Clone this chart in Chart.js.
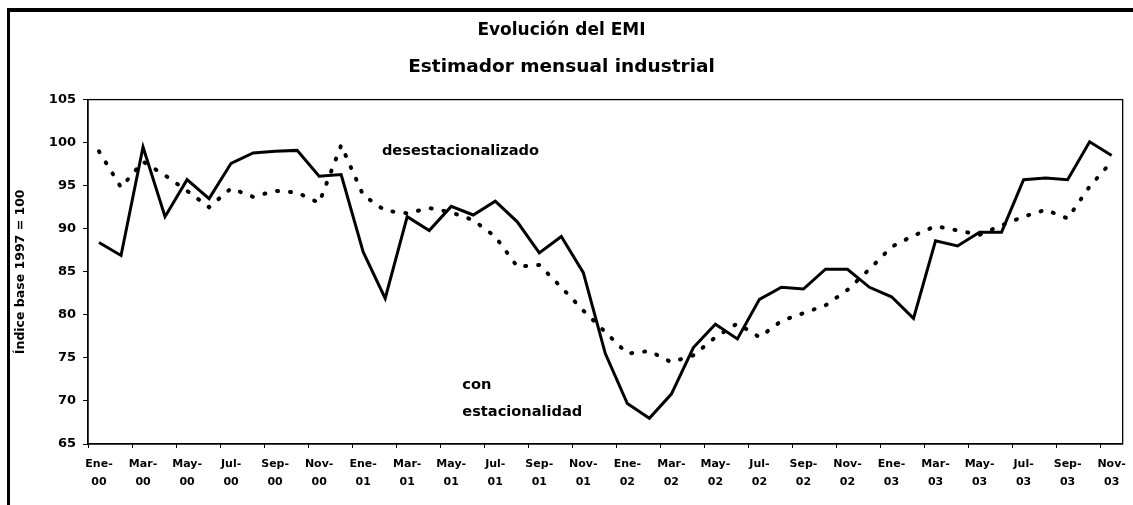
<!DOCTYPE html>
<html>
<head>
<meta charset="utf-8">
<script src="https://cdn.jsdelivr.net/npm/chart.js@4/dist/chart.umd.min.js"></script>
<style>
    body { margin: 0; background: #fff; }
    #wrap { position: relative; width: 1133px; height: 505px; overflow: hidden; }
    #marco { position: absolute; left: 7px; top: 8px; width: 1200px; height: 600px;
             border-left: 3px solid #000; border-top: 4px solid #000; }
    #chartEMI { position: absolute; left: 0; top: 0; }
</style>
</head>
<body>
<div id="wrap">
    <div id="marco"></div>
    <canvas id="chartEMI" width="1133" height="505"></canvas>
</div>
<script>
// Evolución del EMI

// Meses / años
const meses = ["Ene", "Feb", "Mar", "Abr", "May", "Jun", "Jul", "Ago", "Sep", "Oct", "Nov", "Dic"];
const anios = ["00", "01", "02", "03"];
const totalMeses = 47; // Ene-00 .. Nov-03

const categorias = [];
for (let i = 0; i < totalMeses; i++) {
    categorias.push(meses[i % 12] + "-" + anios[Math.floor(i / 12)]);
}

// Series
const conEstacionalidad = [
    88.4, 86.9, 99.5, 91.4, 95.7, 93.5, 97.6, 98.8, 99.0, 99.1, 96.1, 96.3,
    87.3, 81.9, 91.4, 89.8, 92.6, 91.6, 93.2, 90.8, 87.2, 89.1, 84.9, 75.5,
    69.7, 68.0, 70.8, 76.2, 78.9, 77.2, 81.8, 83.2, 83.0, 85.3, 85.3, 83.2,
    82.1, 79.6, 88.6, 88.0, 89.6, 89.6, 95.7, 95.9, 95.7, 100.1, 98.5
];

const desestacionalizado = [
    99.0, 94.8, 97.8, 96.2, 94.4, 92.5, 94.7, 93.7, 94.4, 94.2, 93.0, 99.7,
    93.9, 92.1, 91.8, 92.4, 91.9, 91.0, 89.1, 85.6, 85.8, 83.2, 80.5, 78.0,
    75.5, 75.8, 74.5, 75.3, 77.4, 79.0, 77.4, 79.3, 80.2, 81.1, 82.9, 85.3,
    87.9, 89.2, 90.3, 89.8, 89.3, 90.4, 91.4, 92.2, 91.2, 94.9, 97.8
];

// Ticks eje Y
const yMin = 65;
const yMax = 105;
const yPaso = 5;

// Textos sobre el gráfico: [texto, mes (índice), valor]
const rotulos = [
    ["desestacionalizado", 12.85, 99.05],
    ["con", 16.5, 71.8],
    ["estacionalidad", 16.5, 68.75]
];

const fuente = "'DejaVu Sans', 'Liberation Sans', sans-serif";

// marco del área de trazado + rótulos
const extras = {
    id: "extras",
    afterDatasetsDraw(chart) {
        const { ctx, chartArea, scales } = chart;
        ctx.save();
        ctx.strokeStyle = "#000";
        ctx.lineWidth = 1.3;
        ctx.strokeRect(chartArea.left, chartArea.top,
            chartArea.right - chartArea.left, chartArea.bottom - chartArea.top);

        ctx.fillStyle = "#000";
        ctx.font = "bold 14.6px " + fuente;
        ctx.textAlign = "left";
        ctx.textBaseline = "middle";
        rotulos.forEach(([txt, xi, yv]) => {
            ctx.fillText(txt, scales.x.getPixelForValue(xi), scales.y.getPixelForValue(yv));
        });
        ctx.restore();
    }
};

setupChart = () => {
    const config = {
        type: "line",
        data: {
            labels: categorias,
            datasets: [
                {
                    label: "con estacionalidad",
                    data: conEstacionalidad,
                    borderColor: "#000",
                    borderWidth: 3,
                    pointRadius: 0,
                    tension: 0,
                },
                {
                    label: "desestacionalizado",
                    data: desestacionalizado,
                    borderColor: "#000",
                    borderWidth: 4,
                    borderDash: [1, 12],
                    borderCapStyle: "round",
                    pointRadius: 0,
                    tension: 0,
                },
            ],
        },
        options: {
            responsive: false,
            animation: false,
            layout: { padding: { left: 0, right: 10, top: 0, bottom: 0 } },
            plugins: {
                legend: { display: false },
                tooltip: { enabled: false },
                title: {
                    display: true,
                    text: "Evolución del EMI",
                    color: "#000",
                    font: { family: fuente, size: 17, weight: "bold" },
                    padding: { top: 20, bottom: 0 },
                },
                subtitle: {
                    display: true,
                    text: "Estimador mensual industrial",
                    color: "#000",
                    font: { family: fuente, size: 18.5, weight: "bold" },
                    padding: { top: 16, bottom: 21 },
                },
            },
            scales: {
                x: {
                    offset: true,
                    border: { display: true, color: "#000", width: 1.3 },
                    grid: {
                        offset: true,
                        drawOnChartArea: false,
                        tickLength: 4,
                        color: (c) => (c.index % 2 === 0 ? "#000" : "rgba(0,0,0,0)"),
                    },
                    ticks: {
                        autoSkip: false,
                        maxRotation: 0,
                        padding: 7,
                        color: "#000",
                        font: { family: fuente, size: 11, weight: "bold", lineHeight: 1.65 },
                        callback: function (value, index) {
                            if (index % 2 !== 0) return "";
                            const [m, a] = categorias[index].split("-");
                            return [m + "-", a];
                        },
                    },
                    afterFit: (scale) => { scale.height = 61; },
                },
                y: {
                    min: yMin,
                    max: yMax,
                    border: { display: true, color: "#000", width: 1.3 },
                    grid: { drawOnChartArea: false, tickLength: 5, color: "#000" },
                    ticks: {
                        stepSize: yPaso,
                        padding: 7,
                        color: "#000",
                        font: { family: fuente, size: 13, weight: "bold" },
                    },
                    title: {
                        display: true,
                        text: "Índice base 1997 = 100",
                        color: "#000",
                        font: { family: fuente, size: 12.5, weight: "bold" },
                        padding: { top: 13, bottom: 0 },
                    },
                    afterFit: (scale) => { scale.width = 88; },
                },
            },
        },
        plugins: [extras],
    };

    let ctx = document.getElementById("chartEMI");
    let lineGraph = new Chart(ctx, config);
};

setupChart();
</script>
</body>
</html>
